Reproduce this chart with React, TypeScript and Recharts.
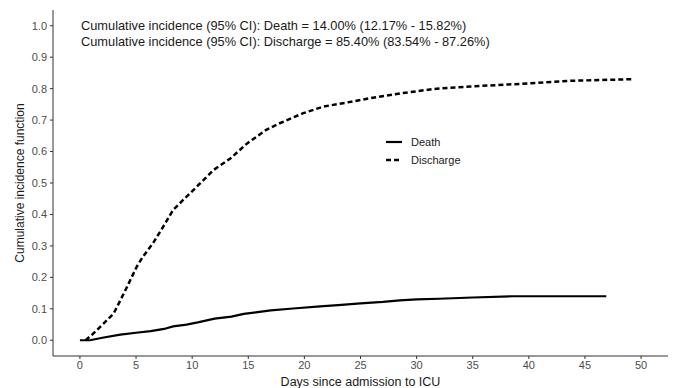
import React from 'react'
import { LineChart, Line, XAxis, YAxis } from 'recharts'

const deathDays = [0, 0.9, 2, 3.6, 5, 6.3, 7.5, 8.3, 9.5, 10.5, 12, 13.5, 14.6, 16, 17, 19, 21.4, 23, 25, 27, 28.5, 30, 32, 35, 38.5, 46.9]
const deathValues = [0, 0, 0.008, 0.018, 0.024, 0.029, 0.036, 0.044, 0.05, 0.057, 0.069, 0.075, 0.084, 0.09, 0.095, 0.101, 0.108, 0.112, 0.117, 0.122, 0.127, 0.13, 0.132, 0.136, 0.14, 0.14]

const dischargeDays = [0.5, 1, 2.1, 3, 3.6, 4.2, 5.05, 5.6, 6.5, 7.4, 8.3, 9.2, 9.8, 10.4, 11.9, 13.4, 14.9, 16.6, 17.8, 19.9, 21.7, 23.8, 26.4, 28.8, 31.8, 34.8, 39.2, 43.7, 49.3]
const dischargeValues = [0, 0.015, 0.053, 0.085, 0.127, 0.17, 0.233, 0.265, 0.308, 0.36, 0.414, 0.446, 0.467, 0.488, 0.541, 0.578, 0.626, 0.669, 0.69, 0.722, 0.743, 0.756, 0.773, 0.786, 0.8, 0.807, 0.815, 0.825, 0.83]

const xTicks = [0, 5, 10, 15, 20, 25, 30, 35, 40, 45, 50]
const yTicks = [0, 0.1, 0.2, 0.3, 0.4, 0.5, 0.6, 0.7, 0.8, 0.9, 1.0]

const annotations = [
    'Cumulative incidence (95% CI): Death = 14.00% (12.17% - 15.82%)',
    'Cumulative incidence (95% CI): Discharge = 85.40% (83.54% - 87.26%)'
]

const deathData = deathDays.map((d, i) => ({ day: d, value: deathValues[i] }))
const dischargeData = dischargeDays.map((d, i) => ({ day: d, value: dischargeValues[i] }))

const font = 'Arial, "Liberation Sans", sans-serif'
const tickStyle = { fill: '#4D4D4D', fontSize: 11, fontFamily: font }
const dash = '5 3'

// legend drawn as an overlay so it doesn't eat plot height
const LegendBox = () => (
    <svg width={110} height={40} style={{ position: 'absolute', left: 380, top: 132, fontFamily: font }}>
        <line x1={6} x2={22} y1={10} y2={10} stroke="#000" strokeWidth={2.2} />
        <text x={31} y={14} fontSize={11} fill="#1a1a1a">Death</text>
        <line x1={6} x2={22} y1={28} y2={28} stroke="#000" strokeWidth={2.5} strokeDasharray={dash} />
        <text x={31} y={32} fontSize={11} fill="#1a1a1a">Discharge</text>
    </svg>
)

export default function App() {
    return (
        <div style={{ position: 'absolute', left: 0, top: 0, width: 676, height: 388, background: '#fff' }}>
            <LineChart width={676} height={388} margin={{ top: 10, right: 8, bottom: 0, left: 0 }}>
                <XAxis
                    type="number"
                    dataKey="day"
                    domain={[-2.4, 52.4]}
                    ticks={xTicks}
                    allowDataOverflow
                    height={32}
                    tickSize={3}
                    tickMargin={2}
                    tick={tickStyle}
                    stroke="#333"
                    label={{ value: 'Days since admission to ICU', position: 'insideBottom', offset: 2, fill: '#1a1a1a', fontSize: 12.5, fontFamily: font }}
                />
                <YAxis
                    type="number"
                    domain={[-0.05, 1.05]}
                    ticks={yTicks}
                    allowDataOverflow
                    width={53}
                    tickSize={3}
                    tickMargin={3}
                    tick={tickStyle}
                    tickFormatter={(v: number) => v.toFixed(1)}
                    stroke="#333"
                    label={{ value: 'Cumulative incidence function', angle: -90, position: 'insideLeft', offset: 20, fill: '#1a1a1a', fontSize: 12, fontFamily: font, style: { textAnchor: 'middle' } }}
                />
                <Line
                    data={deathData}
                    dataKey="value"
                    type="linear"
                    stroke="#000"
                    strokeWidth={2.2}
                    dot={false}
                    isAnimationActive={false}
                />
                <Line
                    data={dischargeData}
                    dataKey="value"
                    type="linear"
                    stroke="#000"
                    strokeWidth={2.5}
                    strokeDasharray={dash}
                    dot={false}
                    isAnimationActive={false}
                />
            </LineChart>
            <LegendBox />
            {annotations.map((t, i) => (
                <div
                    key={i}
                    style={{ position: 'absolute', left: 81, top: 18 + i * 16, fontFamily: font, fontSize: 12.8, color: '#1a1a1a', whiteSpace: 'nowrap', lineHeight: '16px' }}
                >
                    {t}
                </div>
            ))}
        </div>
    )
}
